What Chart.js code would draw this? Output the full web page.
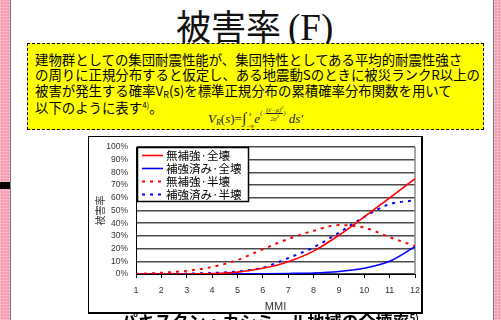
<!DOCTYPE html>
<html><head><meta charset="utf-8">
<script src="https://cdn.jsdelivr.net/npm/chart.js@4"></script>
<style>
html,body{margin:0;padding:0;width:501px;height:320px;overflow:hidden;background:#fff;}
.pinkL,.pinkR{position:absolute;top:0;height:320px;background-color:#f59aae;
 background-image:repeating-linear-gradient(0deg,rgba(255,255,255,.25) 0 1px,transparent 1px 3px),repeating-linear-gradient(90deg,rgba(255,255,255,.25) 0 1px,transparent 1px 3px);}
.pinkL{left:0;width:10px;border-right:1px solid #777;}
.pinkR{left:493px;width:8px;border-left:1px solid #777;}
.blk{position:absolute;left:0;top:182px;width:10px;height:7px;background:#000;}
.title{position:absolute;left:176px;top:3px;font-size:35px;line-height:44px;color:#111;white-space:nowrap;}
.title .cj{font-family:"Noto Sans CJK JP";font-weight:400;}
.title .lt{font-family:"Liberation Serif";font-size:37px;margin-left:7px;}
.box{position:absolute;left:27px;top:43px;width:455px;height:85px;background:#ffff00;border:1px dashed #000;}
.ln{position:absolute;left:7px;font-family:"Noto Sans CJK JP";font-size:13.4px;line-height:16px;white-space:nowrap;color:#000;}
.ln sub{font-size:9px;vertical-align:-2px;line-height:0}
.ln sup{font-size:8px;vertical-align:5px;line-height:0}
.formula{position:absolute;left:180px;top:61px;font-family:"Liberation Serif";font-style:italic;font-size:13px;line-height:16px;white-space:nowrap;color:#222;}
.formula .ib{display:inline-block;vertical-align:middle;text-align:center;line-height:6px;font-size:6px;}
.formula .int{font-style:normal;font-size:15px;}
.formula .ex{display:inline-block;vertical-align:8px;font-size:6px;line-height:6px;}
.formula .fr{display:inline-block;vertical-align:middle;text-align:center;}
.formula .fr span{display:block;line-height:6px;}
.formula .fr span:first-child{border-bottom:0.6px solid #222;}
.chartbox{position:absolute;left:88px;top:136px;width:332px;height:175px;border:1px solid #000;border-right:2px solid #000;border-bottom:2px solid #000;background:#fff;}
canvas{display:block;}
.cap{position:absolute;left:0;width:540px;top:311px;text-align:center;font-family:"Noto Sans CJK JP";font-weight:bold;font-size:17px;line-height:20px;white-space:nowrap;}
.cap sup{font-size:10px;vertical-align:6px;line-height:0}
</style></head>
<body>
<div class="pinkL"></div><div class="pinkR"></div><div class="blk"></div>
<div class="title"><span class="cj">被害率</span><span class="lt">(F)</span></div>
<div class="box">
 <div class="ln" style="top:7px">建物群としての集団耐震性能が、集団特性としてある平均的耐震性強さ</div>
 <div class="ln" style="top:22px">の周りに正規分布すると仮定し、ある地震動Sのときに被災ランクR以上の</div>
 <div class="ln" style="top:38px">被害が発生する確率V<sub>R</sub>(s)を標準正規分布の累積確率分布関数を用いて</div>
 <div class="ln" style="top:55px">以下のように表す<sup>4)</sup>。</div>
 <div class="formula">V<span style="font-size:8px;vertical-align:-2px">R</span><span style="font-style:normal">(</span>s<span style="font-style:normal">)=</span><span class="int">∫</span><span class="ib"><span style="display:block">s</span><span style="display:block">&nbsp;</span><span style="display:block">−∞</span></span>e<span class="ex">(−<span class="fr"><span>(s′−μ)<sup>2</sup></span><span>2σ<sup>2</sup></span></span>)</span> ds′</div>
</div>
<div class="chartbox"><canvas id="c" width="332" height="175"></canvas></div>
<div class="cap">パキスタン・カシミール地域の全壊率<sup>5)</sup></div>
<script>
const mmi = [1,2,3,4,5,6,7,8,9,10,11,12];
const unreinforcedCollapse = [0,0,0,0.3,1.5,4.5,9.7,18,30.5,45,60,75];
const reinforcedCollapse   = [0,0,0,0,0.1,0.2,0.4,0.8,2,4.5,10,21.5];
const unreinforcedHalf     = [0,1,2.5,5.5,11,19.5,27.5,34,38.5,36.5,29,22];
const reinforcedHalf       = [0,0,0.3,0.8,2,5,12.5,21,32.5,45,55,58];
const seriesLabels = ['無補強·全壊','補強済み·全壊','無補強·半壊','補強済み·半壊'];
const yTicks = [0,10,20,30,40,50,60,70,80,90,100];

function pts(arr){return mmi.map((x,i)=>({x:x,y:arr[i]}));}

const legendPlugin = {
  id:'boxLegend',
  afterDatasetsDraw(chart){
    const ctx=chart.ctx, a=chart.chartArea;
    const x0=a.left+1, y0=a.top, w=112, h=55;
    ctx.save();
    ctx.fillStyle='#fff'; ctx.fillRect(x0,y0,w,h);
    ctx.strokeStyle='#000'; ctx.lineWidth=1.5; ctx.strokeRect(x0+0.5,y0+0.5,w-1,h-1);
    ctx.font='11.5px "Noto Sans CJK JP"'; ctx.textBaseline='middle'; ctx.fillStyle='#000';
    chart.data.datasets.forEach((ds,i)=>{
      const yy=y0+8.5+i*13;
      ctx.strokeStyle=ds.borderColor; ctx.lineWidth=ds.borderWidth;
      ctx.setLineDash(ds.borderDash||[]);
      ctx.beginPath(); ctx.moveTo(x0+5,yy); ctx.lineTo(x0+26,yy); ctx.stroke();
      ctx.setLineDash([]);
      ctx.fillText(ds.label,x0+29,yy+0.5);
    });
    ctx.restore();
  },
  beforeDatasetsDraw(chart){
    const ctx=chart.ctx,a=chart.chartArea;
    ctx.save(); ctx.strokeStyle='#888'; ctx.lineWidth=1.5;
    ctx.beginPath(); ctx.moveTo(a.right,a.top); ctx.lineTo(a.right,a.bottom); ctx.stroke();
    ctx.restore();
  }
};

new Chart(document.getElementById('c'),{
  type:'line',
  data:{datasets:[
    {label:seriesLabels[0],data:pts(unreinforcedCollapse),borderColor:'#ff0000',borderWidth:1.6,pointRadius:0,cubicInterpolationMode:'monotone',fill:false},
    {label:seriesLabels[1],data:pts(reinforcedCollapse),borderColor:'#0000ff',borderWidth:1.6,pointRadius:0,cubicInterpolationMode:'monotone',fill:false},
    {label:seriesLabels[2],data:pts(unreinforcedHalf),borderColor:'#ff0000',borderWidth:2,borderDash:[3,5],pointRadius:0,cubicInterpolationMode:'monotone',fill:false},
    {label:seriesLabels[3],data:pts(reinforcedHalf),borderColor:'#0000ff',borderWidth:2,borderDash:[3,5],pointRadius:0,cubicInterpolationMode:'monotone',fill:false}
  ]},
  options:{
    responsive:false,animation:false,
    layout:{padding:{left:0,right:6,top:10,bottom:0}},
    plugins:{legend:{display:false},tooltip:{enabled:false}},
    scales:{
      x:{type:'linear',min:1,max:12,
        afterFit(s){s.height=38;s.paddingLeft=0;s.paddingRight=0;},
        afterBuildTicks(s){s.ticks=mmi.map(v=>({value:v}));},
        ticks:{autoSkip:false,maxRotation:0,color:'#333',font:{family:'Liberation Sans',size:9},padding:7},
        grid:{drawOnChartArea:false,drawTicks:true,tickLength:4,color:'#000'},
        border:{display:true,color:'#000',width:1},
        title:{display:true,text:'MMI',color:'#333',font:{family:'Liberation Sans',size:11},padding:{top:0,bottom:-2}}
      },
      y:{min:0,max:100,
        afterFit(s){s.width=47;s.paddingTop=0;s.paddingBottom=0;},
        afterBuildTicks(s){s.ticks=yTicks.map(v=>({value:v}));},
        ticks:{autoSkip:false,color:'#333',font:{family:'Liberation Sans',size:8.5},padding:8,callback:v=>v+'%'},
        grid:{color:'#4a4a4a',lineWidth:1.5,drawTicks:false},
        border:{display:true,color:'#000',width:1},
        title:{display:true,text:'被害率',color:'#333',font:{family:'Noto Sans CJK JP',size:10},padding:{top:5,bottom:0}}
      }
    }
  },
  plugins:[legendPlugin]
});
</script>
</body></html>
